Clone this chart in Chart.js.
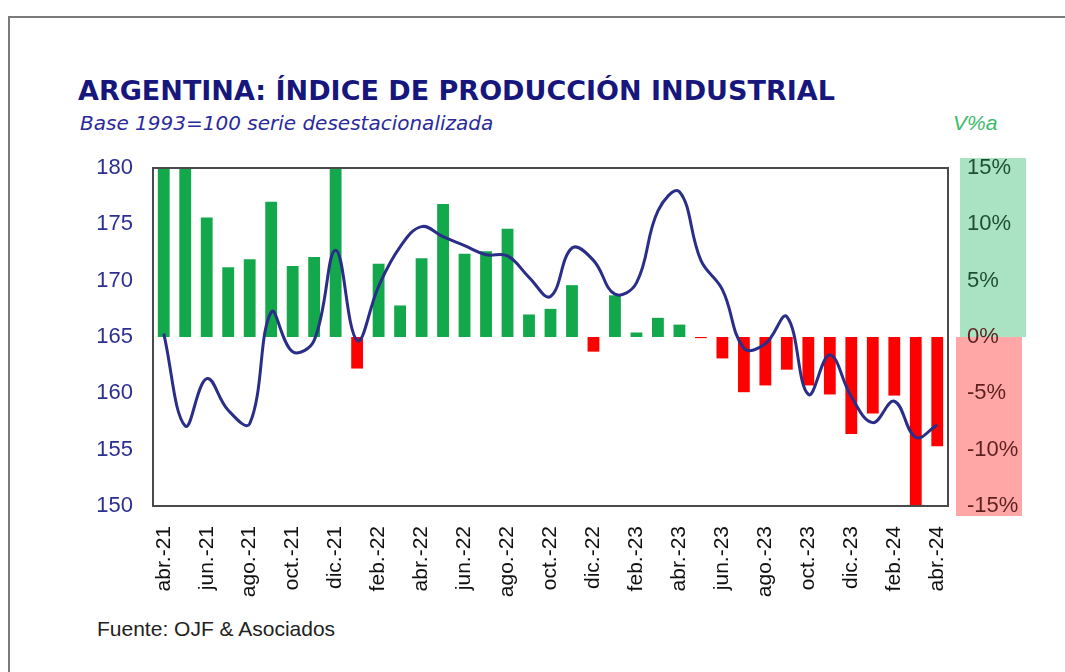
<!DOCTYPE html>
<html>
<head>
<meta charset="utf-8">
<script src="https://cdn.jsdelivr.net/npm/chart.js@4.4.1/dist/chart.umd.min.js"></script>
<style>
  body { margin: 0; background: #fff; }
  #wrap { position: relative; width: 1065px; height: 672px; overflow: hidden; }
  #frame { position: absolute; left: 8px; top: 16px; width: 1100px; height: 700px;
           border-left: 2px solid #7a7a7a; border-top: 2px solid #7a7a7a; }
  .txt { position: absolute; white-space: nowrap; line-height: 1; }
  #title { left: 78px; top: 75px; font: bold 27px "DejaVu Sans", sans-serif; color: #16167c; }
  #subtitle { left: 80px; top: 111px; font: oblique 20px "DejaVu Sans", sans-serif; color: #2a2a9c; }
  #vpa { left: 953px; top: 111px; font: italic 21px "Liberation Sans", Arial, sans-serif; color: #3dbb6c; }
  #source { left: 97px; top: 617px; font: 21px "Liberation Sans", Arial, sans-serif; color: #222; }
  canvas { position: absolute; left: 0; top: 0; }
</style>
</head>
<body>
<div id="wrap">
  <div id="frame"></div>
  <div class="txt" id="title">ARGENTINA: ÍNDICE DE PRODUCCIÓN INDUSTRIAL</div>
  <div class="txt" id="subtitle">Base 1993=100 serie desestacionalizada</div>
  <div class="txt" id="vpa">V%a</div>
  <div class="txt" id="source">Fuente: OJF &amp; Asociados</div>
  <canvas id="chart" width="1065" height="672"></canvas>
</div>
<script>
// ------------------ data ------------------
var months = ['abr.-21','may.-21','jun.-21','jul.-21','ago.-21','sep.-21','oct.-21','nov.-21','dic.-21',
  'ene.-22','feb.-22','mar.-22','abr.-22','may.-22','jun.-22','jul.-22','ago.-22','sep.-22','oct.-22','nov.-22','dic.-22',
  'ene.-23','feb.-23','mar.-23','abr.-23','may.-23','jun.-23','jul.-23','ago.-23','sep.-23','oct.-23','nov.-23','dic.-23',
  'ene.-24','feb.-24','mar.-24','abr.-24'];

// indice (eje izq.)
var ipi = [165.3, 157.1, 161.3, 158.5, 157.3, 167.2, 163.7, 164.7, 172.7,
  164.7, 169.5, 173.0, 174.8, 173.9, 173.1, 172.3, 172.2, 170.3, 168.6, 172.9, 171.8,
  168.8, 169.8, 176.2, 177.9, 171.8, 169.2, 164.0, 164.4, 166.8, 159.9, 163.4, 159.7,
  157.4, 159.3, 156.1, 157.2];

// variacion anual % (eje der.)
var variacion = [16.5, 16.5, 10.6, 6.2, 6.9, 12.0, 6.3, 7.1, 16.0,
  -2.8, 6.5, 2.8, 7.0, 11.8, 7.4, 7.6, 9.6, 2.0, 2.5, 4.6, -1.3,
  3.7, 0.4, 1.7, 1.1, -0.1, -1.9, -4.9, -4.3, -2.9, -4.3, -5.1, -8.6,
  -6.8, -5.2, -15.3, -9.7];

var leftTicks = [150, 155, 160, 165, 170, 175, 180];
var rightTicks = [-15, -10, -5, 0, 5, 10, 15];

// ------------------ plugins ------------------
var bandsPlugin = {
  id: 'bands',
  beforeDraw: function (chart) {
    var ctx = chart.ctx, s = chart.scales.y1;
    var zero = s.getPixelForValue(0);
    var top = s.getPixelForValue(rightTicks[rightTicks.length - 1]) - 10;
    var bot = s.getPixelForValue(rightTicks[0]) + 10;
    ctx.save();
    ctx.fillStyle = '#a9e3c4';
    ctx.fillRect(960, top, 66, zero - top);
    ctx.fillStyle = '#ffa7a7';
    ctx.fillRect(956, zero, 66, bot - zero);
    ctx.restore();
  }
};

var borderPlugin = {
  id: 'plotBorder',
  afterDatasetsDraw: function (chart) {
    var a = chart.chartArea, ctx = chart.ctx;
    ctx.save();
    ctx.strokeStyle = '#4a4a4a';
    ctx.lineWidth = 2;
    ctx.strokeRect(a.left, a.top, a.right - a.left, a.bottom - a.top);
    ctx.restore();
  }
};

// ------------------ chart ------------------
var ctx = document.getElementById('chart').getContext('2d');
var chart = new Chart(ctx, {
  type: 'bar',
  data: {
    labels: months,
    datasets: [
      {
        type: 'line',
        label: 'IPI',
        data: ipi,
        yAxisID: 'y',
        borderColor: '#2b2e88',
        borderWidth: 3,
        tension: 0.4,
        pointRadius: 0,
        fill: false,
        order: 0
      },
      {
        type: 'bar',
        label: 'V%a',
        data: variacion,
        yAxisID: 'y1',
        backgroundColor: variacion.map(function (v) { return v >= 0 ? '#13a84b' : '#ff0000'; }),
        barPercentage: 0.55,
        categoryPercentage: 1,
        order: 1
      }
    ]
  },
  options: {
    responsive: false,
    animation: false,
    layout: { padding: { top: 168, left: 0, right: 0, bottom: 0 } },
    plugins: {
      legend: { display: false },
      tooltip: { enabled: false }
    },
    scales: {
      x: {
        offset: true,
        grid: { display: false },
        border: { display: false },
        ticks: {
          autoSkip: false,
          maxRotation: 90,
          minRotation: 90,
          padding: 12,
          color: '#111',
          font: { family: 'Liberation Sans', size: 21 },
          callback: function (val, i) { return i % 2 === 0 ? months[i] : ''; }
        },
        afterFit: function (s) { s.height = 166; }
      },
      y: {
        position: 'left',
        min: leftTicks[0],
        max: leftTicks[leftTicks.length - 1],
        grid: { display: false, drawTicks: false },
        border: { display: false },
        ticks: {
          stepSize: 5,
          padding: 20,
          color: '#2b2f90',
          font: { family: 'Liberation Sans', size: 22 }
        },
        afterFit: function (s) { s.width = 153; }
      },
      y1: {
        position: 'right',
        min: rightTicks[0],
        max: rightTicks[rightTicks.length - 1],
        grid: { display: false, drawTicks: false },
        border: { display: false },
        ticks: {
          stepSize: 5,
          padding: 19,
          font: { family: 'Liberation Sans', size: 22 },
          color: function (c) { return c.tick.value > 0 ? '#1f4f32' : '#5e1f1f'; },
          callback: function (v) { return v + '%'; }
        },
        afterFit: function (s) { s.width = 117; }
      }
    }
  },
  plugins: [bandsPlugin, borderPlugin]
});
</script>
</body>
</html>
